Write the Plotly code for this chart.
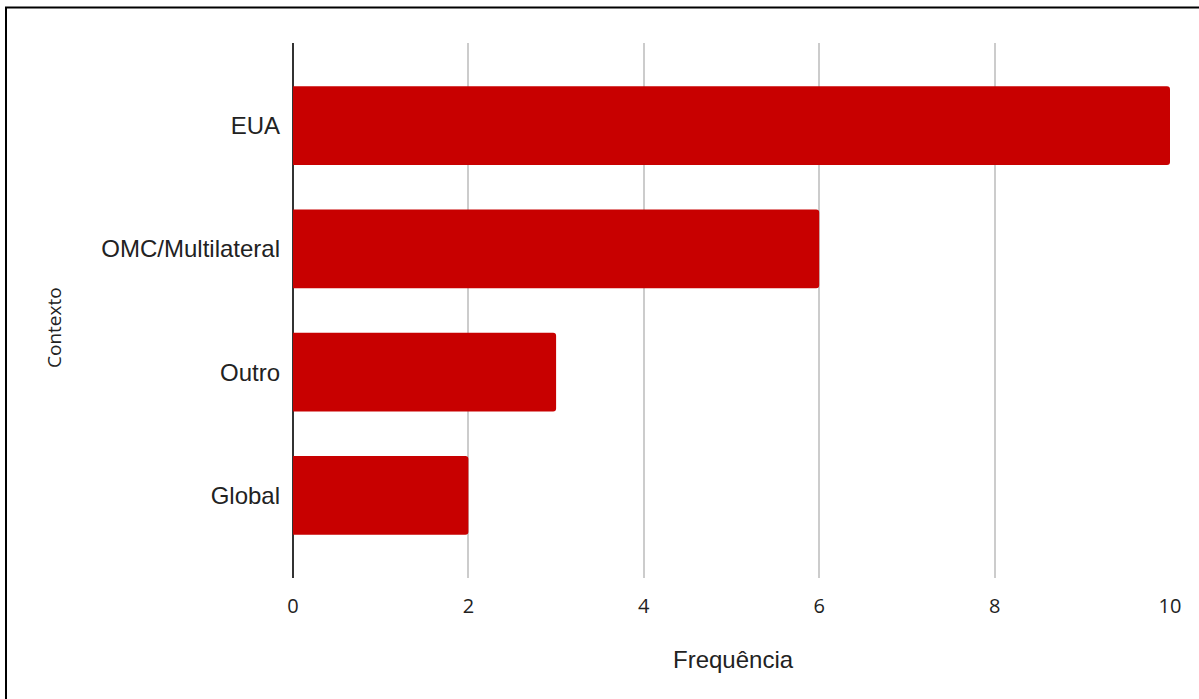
import plotly.graph_objects as go

categories = ["EUA", "OMC/Multilateral", "Outro", "Global"]
values = [10, 6, 3, 2]
x_ticks = [0, 2, 4, 6, 8, 10]

W, H = 1199, 699
L, R, T, B = 293, 29, 43, 121
pw, ph = W - L - R, H - T - B

def px_x(p):
    return (p - L) / pw

def px_y(p):
    return (H - B - p) / ph

fig = go.Figure(go.Bar(
    x=values,
    y=categories,
    orientation="h",
    marker=dict(color="#c80000", line=dict(width=0), cornerradius=3),
    width=0.64,
))

fig.update_layout(
    width=W, height=H,
    margin=dict(l=L, r=R, t=T, b=B, pad=0),
    paper_bgcolor="white",
    plot_bgcolor="white",
    showlegend=False,
    xaxis=dict(
        range=[0, 10],
        tickvals=x_ticks,
        ticktext=[str(v) for v in x_ticks],
        showgrid=True,
        gridcolor="#cccccc",
        gridwidth=2,
        zeroline=True,
        zerolinecolor="#333333",
        zerolinewidth=2,
        showline=False,
        ticks="",
        ticklabelstandoff=14,
        tickfont=dict(family="Open Sans", size=20, color="#222222"),
    ),
    yaxis=dict(
        categoryorder="array",
        categoryarray=categories[::-1],
        range=[-0.67, 3.67],
        showgrid=False,
        zeroline=False,
        showline=False,
        ticks="",
        ticklabelstandoff=12,
        tickfont=dict(family="Arial", size=24, color="#222222"),
    ),
    annotations=[
        dict(text="Frequência", xref="paper", yref="paper",
             x=px_x(733), y=px_y(659), xanchor="center", yanchor="middle",
             showarrow=False,
             font=dict(family="Arial", size=24, color="#222222")),
        dict(text="Contexto", xref="paper", yref="paper",
             x=px_x(54), y=px_y(328), xanchor="center", yanchor="middle",
             textangle=-90, showarrow=False,
             font=dict(family="Open Sans", size=19, color="#222222")),
    ],
    shapes=[
        dict(type="line", xref="paper", yref="paper",
             x0=px_x(6), x1=px_x(6), y0=px_y(7.5), y1=px_y(720),
             line=dict(color="black", width=2)),
        dict(type="line", xref="paper", yref="paper",
             x0=px_x(5), x1=px_x(1220), y0=px_y(7.5), y1=px_y(7.5),
             line=dict(color="black", width=2)),
    ],
)

fig.write_html("out.html")
